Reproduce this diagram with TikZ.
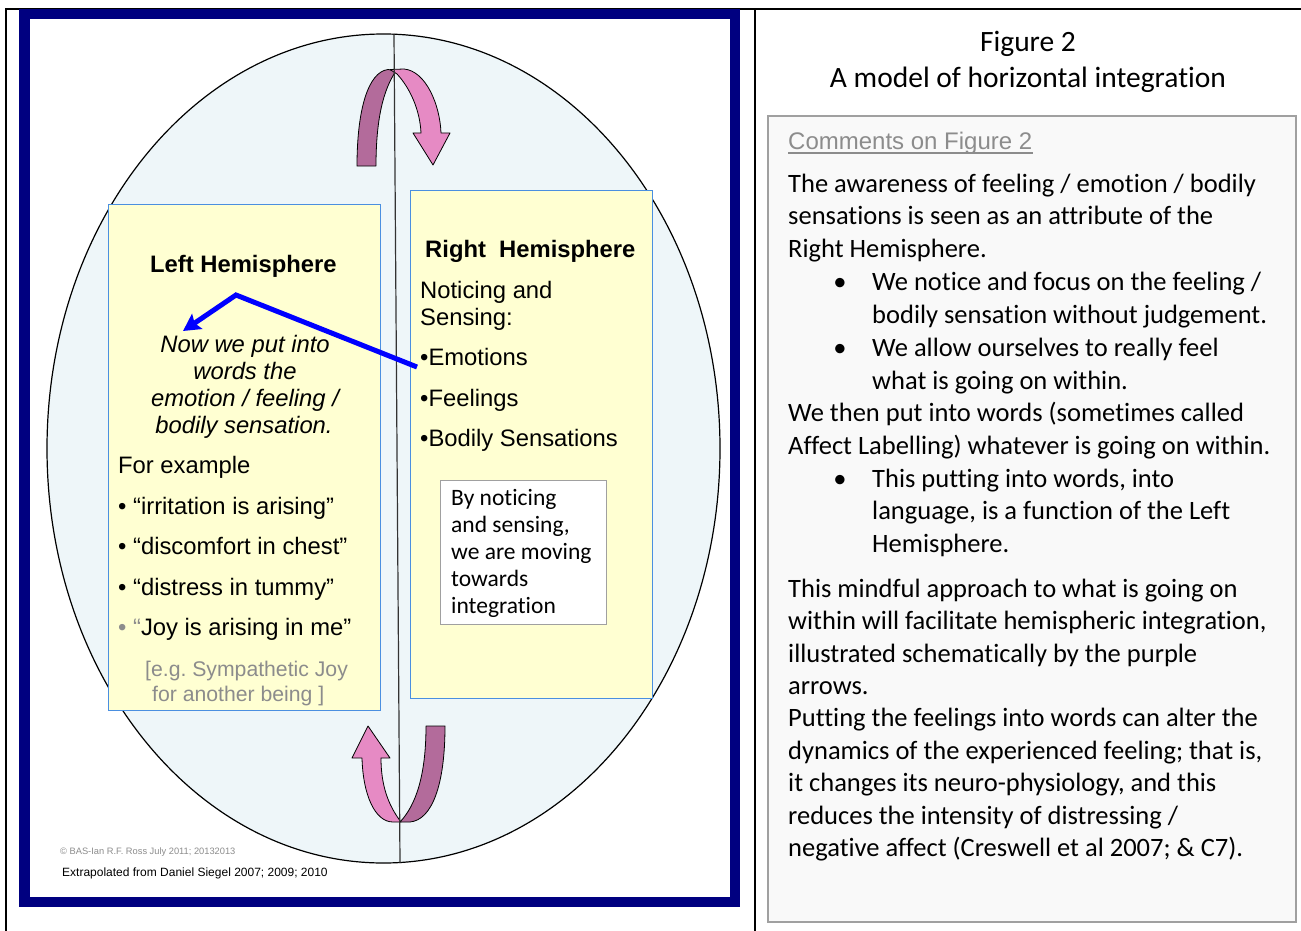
\documentclass[tikz,border=0pt]{standalone}
\usepackage{fontspec}
\setmainfont{Liberation Sans}
\newfontfamily\calfont[Ligatures=NoCommon]{Carlito}
\usetikzlibrary{arrows.meta}
\frenchspacing
\definecolor{navyf}{HTML}{000080}
\definecolor{ellfill}{HTML}{EEF6F9}
\definecolor{yel}{HTML}{FFFFD2}
\definecolor{boxblue}{HTML}{4A8FE0}
\definecolor{darkpink}{HTML}{B36B9B}
\definecolor{lightpink}{HTML}{E68AC4}
\definecolor{gtext}{HTML}{8C8C8C}
\definecolor{combg}{HTML}{F9F9F9}
\definecolor{comborder}{HTML}{A0A0A0}
\definecolor{arrblue}{HTML}{0000FF}
\tikzset{
  lt/.style={anchor=base west, inner sep=0pt, font=\fontsize{23.8}{27}\selectfont},
  lts/.style={anchor=base west, inner sep=0pt, font=\fontsize{21.2}{25}\selectfont, text=gtext},
  ltb/.style={anchor=base west, inner sep=0pt, font=\fontsize{23.8}{27}\selectfont\bfseries},
  ltc/.style={anchor=base, inner sep=0pt, font=\fontsize{23.8}{27}\selectfont\itshape},
  rt/.style={anchor=base west, inner sep=0pt, font=\calfont\fontsize{26.5}{32.5}\selectfont},
  rbul/.style={anchor=base, inner sep=0pt, font=\calfont\fontsize{26.5}{32.5}\selectfont},
  sbt/.style={anchor=base west, inner sep=0pt, font=\calfont\fontsize{23.5}{27}\selectfont},
  ttl/.style={anchor=base, inner sep=0pt, font=\calfont\fontsize{29.5}{36}\selectfont},
  pinkband/.style={draw=black, line width=0.8pt, line join=round},
}
\begin{document}
\begin{tikzpicture}[x=1pt,y=-1pt]
\useasboundingbox (0,0) rectangle (1301,931);
\fill[white] (0,0) rectangle (1301,931);
% outer table lines
\draw[black, line width=2pt] (5.5,931) -- (5.5,9) -- (1301,9);
\draw[black, line width=2pt] (754.5,9) -- (754.5,931);
% navy frame
\draw[navyf, line width=10.5pt] (24.25,14.25) rectangle (734.75,901.75);
% ellipse
\filldraw[fill=ellfill, draw=black, line width=1.2pt] (383.5,448.5) ellipse [x radius=336.5pt, y radius=414.5pt];
% top purple arrow
\filldraw[fill=darkpink, pinkband] (357,166) .. controls (357,110) and (368,72) .. (388,69.5) -- (396,71) .. controls (383,90) and (376,120) .. (376,166) -- cycle;
\filldraw[fill=lightpink, pinkband] (390,69.5) -- (404,69) .. controls (426,71) and (440,105) .. (441,133) -- (450,133) -- (433,165) -- (413,133) -- (421,133) .. controls (420,110) and (410,88) .. (397,74) -- cycle;
% bottom purple arrow
\filldraw[fill=lightpink, pinkband] (362,758) .. controls (363,795) and (375,822) .. (393,822) -- (401,822) .. controls (388,805) and (381,785) .. (381,758) -- (390,758) -- (368,726) -- (352,758) -- cycle;
\filldraw[fill=darkpink, pinkband] (426,726) -- (445,726) .. controls (445,785) and (432,820) .. (410,822) -- (400,822) .. controls (416,805) and (426,775) .. (426,726) -- cycle;
% vertical divider
\draw[black!80, line width=1.2pt] (394,34) -- (400,863);
% boxes
\node[draw=boxblue, fill=yel, line width=1pt, minimum width=272pt, minimum height=506pt, inner sep=0pt] (lbox) at (244,457) {};
\node[draw=boxblue, fill=yel, line width=1pt, minimum width=242pt, minimum height=508pt, inner sep=0pt] (rbox) at (531,444) {};
\node[draw=comborder, fill=white, line width=0.8pt, minimum width=166pt, minimum height=144pt, inner sep=0pt] (wbox) at (523,552) {};
% left box texts
\node[ltb] (lh) at (150,272) {Left Hemisphere};
\node[ltc] (i1) at (245,352) {Now we put into};
\node[ltc] (i2) at (245,379) {words the};
\node[ltc] (i3) at (245,406) {emotion / feeling /};
\node[ltc] (i4) at (244,433) {bodily sensation.};
\node[lt] (fe) at (118,473) {For example};
\node[lt] (b1) at (118,514) {• “irritation is arising”};
\node[lt] (b2) at (118,554) {• “discomfort in chest”};
\node[lt] (b3) at (118,595) {• “distress in tummy”};
\node[lt] (b4) at (118,635) {\textcolor{gtext}{• “}Joy is arising in me”};
\node[lts] (g1) at (145,676.5) {[e.g. Sympathetic Joy};
\node[lts] (g2) at (152,701.5) {for another being ]};
% right box texts
\node[ltb] (rh) at (425,257) {Right\ \ Hemisphere};
\node[lt] (n1) at (420,298) {Noticing and};
\node[lt] (n2) at (420,325) {Sensing:};
\node[lt] (emotions) at (420,365) {•Emotions};
\node[lt] (feelings) at (420,406) {•Feelings};
\node[lt] (bodily) at (420,446) {•Bodily Sensations};
\node[sbt] (s1) at (451,505.5) {By noticing};
\node[sbt] (s2) at (451,532.5) {and sensing,};
\node[sbt] (s3) at (451,559.5) {we are moving};
\node[sbt] (s4) at (451,586.5) {towards};
\node[sbt] (s5) at (451,613.5) {integration};
% credits
\node[anchor=base west, inner sep=0pt, font=\fontsize{9.3}{11}\selectfont, text=black!45] (cr) at (60,854.5) {© BAS-Ian R.F. Ross July 2011; 20132013};
\node[anchor=base west, inner sep=0pt, font=\fontsize{12}{14}\selectfont] (ex) at (62,876) {Extrapolated from Daniel Siegel 2007; 2009; 2010};
% blue arrow
\coordinate (emo) at (417,367);
\coordinate (vtx) at (236,295);
\coordinate (tip) at (183,331);
\draw[arrblue, line width=5pt, line join=miter, -{Stealth[length=17pt, width=18pt, inset=3pt]}] (emo) -- (vtx) -- (tip);
% right panel
\node[ttl] (t1) at (1028,51.5) {Figure 2};
\node[ttl] (t2) at (1028,87.5) {A model of horizontal integration};
\node[draw=comborder, fill=combg, line width=2pt, minimum width=528pt, minimum height=806pt, inner sep=0pt] (cbox) at (1032,519) {};
\node[anchor=base west, inner sep=0pt, font=\fontsize{24}{28}\selectfont, text=gtext] (cm) at (788,149.5) {Comments on Figure 2};
\draw[gtext, line width=1.2pt] (cm.base west) ++(0,3.5) -- ++(245,0);
\node[rt] (r1) at (788,192) {The awareness of feeling / emotion / bodily};
\node[rt] (r2) at (788,224) {sensations is seen as an attribute of the};
\node[rt] (r3) at (788,257) {Right Hemisphere.};
\node[rbul] (d1) at (840,290) {•};
\node[rt] (r4) at (872,290) {We notice and focus on the feeling /};
\node[rt] (r5) at (872,323) {bodily sensation without judgement.};
\node[rbul] (d2) at (840,356) {•};
\node[rt] (r6) at (872,356) {We allow ourselves to really feel};
\node[rt] (r7) at (872,389) {what is going on within.};
\node[rt] (r8) at (788,421) {We then put into words (sometimes called};
\node[rt] (r9) at (788,454) {Affect Labelling) whatever is going on within.};
\node[rbul] (d3) at (840,487) {•};
\node[rt] (r10) at (872,487) {This putting into words, into};
\node[rt] (r11) at (872,519) {language, is a function of the Left};
\node[rt] (r12) at (872,552) {Hemisphere.};
\node[rt] (r13) at (788,597) {This mindful approach to what is going on};
\node[rt] (r14) at (788,629) {within will facilitate hemispheric integration,};
\node[rt] (r15) at (788,662) {illustrated schematically by the purple};
\node[rt] (r16) at (788,694) {arrows.};
\node[rt] (r17) at (788,726) {Putting the feelings into words can alter the};
\node[rt] (r18) at (788,759) {dynamics of the experienced feeling; that is,};
\node[rt] (r19) at (788,791) {it changes its neuro-physiology, and this};
\node[rt] (r20) at (788,824) {reduces the intensity of distressing /};
\node[rt] (r21) at (788,856) {negative affect (Creswell et al 2007; \& C7).};
\end{tikzpicture}
\end{document}
